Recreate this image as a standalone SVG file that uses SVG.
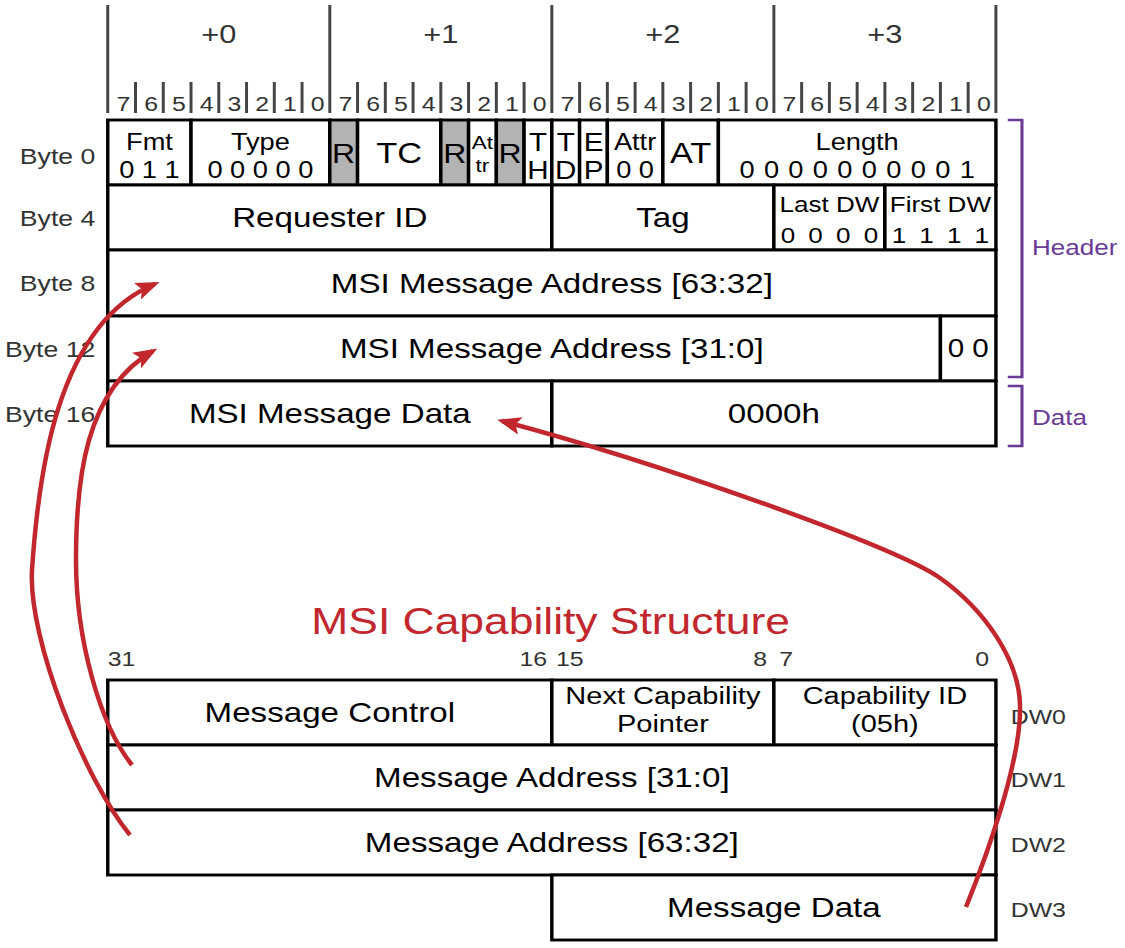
<svg xmlns="http://www.w3.org/2000/svg" width="1125" height="948" viewBox="0 0 1125 948">
<style>
.cell{fill:#fff;stroke:#000;stroke-width:2.9}
.gray{fill:#b3b3b3;stroke:#000;stroke-width:2.9}
.t{font-family:"Liberation Sans",Arial,sans-serif;fill:#000;text-anchor:middle}
.big{font-size:28px}
.sm{font-size:23px}
.lbl{font-family:"Liberation Sans",Arial,sans-serif;font-size:21px;fill:#333}
.g3{fill:#333}
.red{fill:#c1272d}
.ruler{stroke:#444;stroke-width:2.5;fill:none}
.br{fill:none;stroke:#6a3a96;stroke-width:2.6}
.brt{font-family:"Liberation Sans",Arial,sans-serif;font-size:22px;fill:#6a3a96}
.arrow{fill:none;stroke:#c1272d;stroke-width:4.5;marker-end:url(#ah)}
</style>
<defs>
<marker id="ah" markerUnits="userSpaceOnUse" viewBox="0 0 24 18" markerWidth="24" markerHeight="18" refX="19" refY="9" orient="auto">
<path d="M0,0 L24,9 L0,18 L5,9 z" fill="#c1272d"/>
</marker>
</defs>
<rect width="1125" height="948" fill="#fff"/>
<g transform="scale(1.18421,1)">
<g id="ruler">
<path class="ruler" d="M91,5V113M278.5,5V113M466,5V113M653.5,5V113M841,5V113"/>
<path class="ruler" stroke-width="2" d="M114.44,82V113M137.88,82V113M161.31,82V113M184.75,82V113M208.19,82V113M231.63,82V113M255.06,82V113M301.94,82V113M325.38,82V113M348.81,82V113M372.25,82V113M395.69,82V113M419.13,82V113M442.56,82V113M489.44,82V113M512.88,82V113M536.31,82V113M559.75,82V113M583.19,82V113M606.63,82V113M630.06,82V113M676.94,82V113M700.38,82V113M723.81,82V113M747.25,82V113M770.69,82V113M794.13,82V113M817.56,82V113"/>
<g font-size="26">
<text class="t g3" x="184.75" y="43">+0</text>
<text class="t g3" x="372.25" y="43">+1</text>
<text class="t g3" x="559.75" y="43">+2</text>
<text class="t g3" x="747.25" y="43">+3</text>
</g>
<g font-size="21">
<text class="t g3" x="104.2 127.6 151.1 174.5 198.0 221.4 244.8 268.3" y="111">76543210</text>
<text class="t g3" x="291.7 315.1 338.6 362.0 385.5 408.9 432.3 455.8" y="111">76543210</text>
<text class="t g3" x="479.2 502.6 526.1 549.5 573.0 596.4 619.8 643.3" y="111">76543210</text>
<text class="t g3" x="666.7 690.1 713.6 737.0 760.5 783.9 807.3 830.8" y="111">76543210</text>
</g>
</g>
<g id="byte-labels" class="lbl" text-anchor="end" style="font-size:22.5px">
<text x="80.5" y="164">Byte 0</text>
<text x="80.5" y="226">Byte 4</text>
<text x="80.5" y="291">Byte 8</text>
<text x="80.5" y="357">Byte 12</text>
<text x="80.5" y="422">Byte 16</text>
</g>
<g id="fmt"><rect class="cell" x="91" y="120" width="70.31" height="65"/><text class="t sm" x="126.2" y="150">Fmt</text><text class="t sm" x="126.2" y="178">0 1 1</text></g>
<g id="type"><rect class="cell" x="161.31" y="120" width="117.19" height="65"/><text class="t sm" x="219.9" y="150">Type</text><text class="t sm" x="219.9" y="178">0 0 0 0 0</text></g>
<g id="r1"><rect class="gray" x="278.5" y="120" width="23.44" height="65"/><text class="t" font-size="27" x="290.2" y="163">R</text></g>
<g id="tc"><rect class="cell" x="301.94" y="120" width="70.31" height="65"/><text class="t" font-size="29" x="337.1" y="163">TC</text></g>
<g id="r2"><rect class="gray" x="372.25" y="120" width="23.44" height="65"/><text class="t" font-size="27" x="384" y="163">R</text></g>
<g id="attr1"><rect class="cell" x="395.69" y="120" width="23.44" height="65"/><text class="t" font-size="19" x="407.4" y="149">At</text><text class="t" font-size="19" x="407.4" y="172">tr</text></g>
<g id="r3"><rect class="gray" x="419.13" y="120" width="23.44" height="65"/><text class="t" font-size="27" x="430.8" y="163">R</text></g>
<g id="th"><rect class="cell" x="442.56" y="120" width="23.44" height="65"/><text class="t" font-size="25" x="454.3" y="151">T</text><text class="t" font-size="25" x="454.3" y="179">H</text></g>
<g id="td"><rect class="cell" x="466" y="120" width="23.44" height="65"/><text class="t" font-size="25" x="477.7" y="151">T</text><text class="t" font-size="25" x="477.7" y="179">D</text></g>
<g id="ep"><rect class="cell" x="489.44" y="120" width="23.44" height="65"/><text class="t" font-size="25" x="501.2" y="151">E</text><text class="t" font-size="25" x="501.2" y="179">P</text></g>
<g id="attr2"><rect class="cell" x="512.88" y="120" width="46.87" height="65"/><text class="t sm" x="536.3" y="150">Attr</text><text class="t sm" x="536.3" y="178">0 0</text></g>
<g id="at"><rect class="cell" x="559.75" y="120" width="46.88" height="65"/><text class="t" font-size="29" x="583.2" y="163">AT</text></g>
<g id="length"><rect class="cell" x="606.63" y="120" width="234.37" height="65"/><text class="t sm" x="723.8" y="150">Length</text><text class="t sm" x="723.8" y="178" word-spacing="1.5">0 0 0 0 0 0 0 0 0 1</text></g>
<g id="requester-id"><rect class="cell" x="91" y="185" width="375" height="65"/><text class="t big" x="278.5" y="227">Requester ID</text></g>
<g id="tag"><rect class="cell" x="466" y="185" width="187.5" height="65"/><text class="t big" x="559.75" y="227">Tag</text></g>
<g id="last-dw"><rect class="cell" x="653.5" y="185" width="93.75" height="65"/><text class="t" font-size="22" x="700.4" y="212">Last DW</text><text class="t" font-size="22" x="700.4" y="243" word-spacing="5">0 0 0 0</text></g>
<g id="first-dw"><rect class="cell" x="747.25" y="185" width="93.75" height="65"/><text class="t" font-size="22" x="794.1" y="212">First DW</text><text class="t" font-size="22" x="794.1" y="243" word-spacing="5">1 1 1 1</text></g>
<g id="addr-hi"><rect class="cell" x="91" y="250" width="750" height="66"/><text class="t big" x="466" y="293">MSI Message Address [63:32]</text></g>
<g id="addr-lo"><rect class="cell" x="91" y="316" width="703.13" height="65"/><text class="t big" x="466" y="358">MSI Message Address [31:0]</text></g>
<g id="addr-lo-zero"><rect class="cell" x="794.13" y="316" width="46.87" height="65"/><text class="t" font-size="25" x="817.6" y="357">0 0</text></g>
<g id="msg-data"><rect class="cell" x="91" y="381" width="375" height="65"/><text class="t big" x="278.5" y="423">MSI Message Data</text></g>
<g id="data-zero"><rect class="cell" x="466" y="381" width="375" height="65"/><text class="t big" x="653.5" y="423">0000h</text></g>
<g id="header-bracket"><path class="br" d="M851,120H863V377H851"/><text class="brt" x="871.5" y="255">Header</text></g>
<g id="data-bracket"><path class="br" d="M851,386H863V446H851"/><text class="brt" x="871.5" y="425">Data</text></g>
<g id="title"><text class="t red" font-size="37.5" x="465" y="634">MSI Capability Structure</text></g>
<g id="bit-labels" class="lbl">
<text x="91" y="666">31</text>
<text x="462" y="666" text-anchor="end">16</text>
<text x="469.5" y="666">15</text>
<text x="647.7" y="666" text-anchor="end">8</text>
<text x="658" y="666">7</text>
<text x="835.2" y="666" text-anchor="end">0</text>
</g>
<g id="msg-control"><rect class="cell" x="91" y="680" width="375" height="65"/><text class="t big" x="278.5" y="722">Message Control</text></g>
<g id="next-cap"><rect class="cell" x="466" y="680" width="187.5" height="65"/><text class="t" font-size="24.5" x="559.75" y="704">Next Capability</text><text class="t" font-size="24.5" x="559.75" y="732">Pointer</text></g>
<g id="cap-id"><rect class="cell" x="653.5" y="680" width="187.5" height="65"/><text class="t" font-size="24.5" x="747.25" y="704">Capability ID</text><text class="t" font-size="24.5" x="747.25" y="732">(05h)</text></g>
<g id="dw1"><rect class="cell" x="91" y="745" width="750" height="65"/><text class="t big" x="466" y="787">Message Address [31:0]</text></g>
<g id="dw2"><rect class="cell" x="91" y="810" width="750" height="65"/><text class="t big" x="466" y="852">Message Address [63:32]</text></g>
<g id="dw3"><rect class="cell" x="466" y="875" width="375" height="65"/><text class="t big" x="653.5" y="917">Message Data</text></g>
<g id="dw-labels" class="lbl">
<text x="853.5" y="724">DW0</text>
<text x="853.5" y="787">DW1</text>
<text x="853.5" y="852">DW2</text>
<text x="853.5" y="917">DW3</text>
</g>
</g>
<g id="connectors">
<path class="arrow" d="M130,835 C85,780 28,640 32,570 C38,480 55,325 155,284"/>
<path class="arrow" d="M132,765 C100,725 76,640 76,560 C76,480 85,390 153,351"/>
<path class="arrow" d="M966,907 C985,860 1022,760 1020,705 C1019,660 985,610 940,578 C895,546 650,460 502,421"/>
</g>
</svg>
